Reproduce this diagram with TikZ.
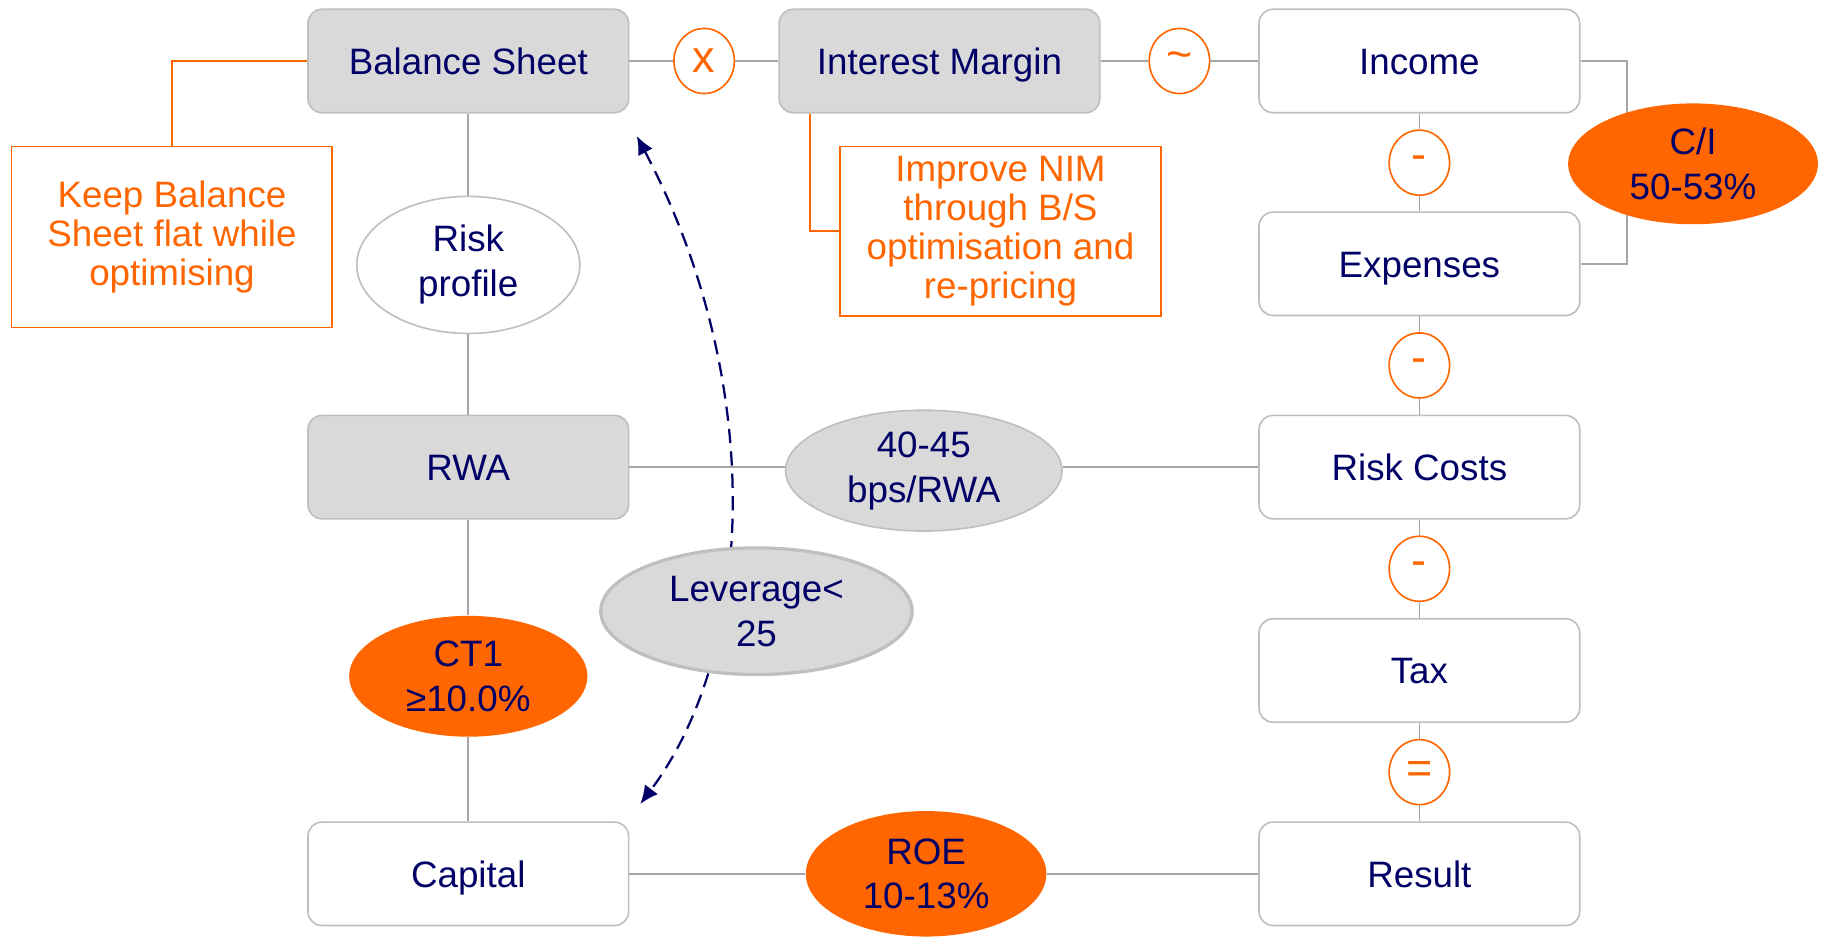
\documentclass[tikz,border=0pt]{standalone}
\usepackage{fontspec}
\setmainfont{Liberation Sans}
\usetikzlibrary{shapes.geometric,arrows.meta}
\definecolor{navytext}{RGB}{0,0,102}
\definecolor{accent}{RGB}{255,102,0}
\definecolor{fillgray}{RGB}{217,217,217}
\definecolor{edgegray}{RGB}{191,191,191}
\definecolor{linkgray}{RGB}{166,166,166}
\tikzset{
  box/.style={draw=edgegray, line width=0.8pt, rounded corners=0.24cm,
    minimum width=5.52cm, minimum height=1.78cm, text=navytext,
    text height=13pt, text depth=0pt,
    font=\fontsize{18}{19.5}\selectfont},
  greybox/.style={box, fill=fillgray},
  whitebox/.style={box, fill=white},
  op/.style={ellipse, draw=accent, line width=0.8pt, fill=white, inner sep=0pt,
    minimum width=1.04cm, minimum height=1.12cm, text=accent,
    font=\fontsize{22}{22}\selectfont},
  note/.style={draw=accent, line width=0.8pt, fill=white, minimum width=5.52cm,
    text=accent, align=center, font=\fontsize{18}{19}\selectfont},
  oval/.style={ellipse, align=center, text=navytext, inner sep=0pt,
    font=\fontsize{18}{22}\selectfont},
  hotoval/.style={oval, fill=accent},
  greyoval/.style={oval, fill=fillgray, draw=edgegray, line width=0.8pt},
  link/.style={draw=linkgray, line width=0.8pt},
  callout/.style={draw=accent, line width=0.8pt},
}
\begin{document}
\begin{tikzpicture}[x=0.02cm,y=-0.02cm]
  \useasboundingbox (0,0) rectangle (1568,810);
  % main boxes
  \node[greybox] (bs) at (403,52.5) {Balance Sheet};
  \node[greybox] (im) at (808.5,52.5) {Interest Margin};
  \node[greybox] (rwa) at (403,402) {RWA};
  \node[whitebox] (cap) at (403,752) {Capital};
  \node[whitebox] (inc) at (1221.5,52.5) {Income};
  \node[whitebox] (exp) at (1221.5,227) {Expenses};
  \node[whitebox] (rc) at (1221.5,402) {Risk Costs};
  \node[whitebox] (tax) at (1221.5,577) {Tax};
  \node[whitebox] (res) at (1221.5,752) {Result};
  % operators
  \node[op] (times) at (606,52.5) {x};
  \node[op] (approx) at (1015,52.5) {\textasciitilde};
  \node[op] (minusA) at (1221.5,140) {-};
  \node[op] (minusB) at (1221.5,314.5) {-};
  \node[op] (minusC) at (1221.5,489.5) {-};
  \node[op] (equals) at (1221.5,664.5) {=};
  % notes
  \node[note, minimum height=3.12cm] (keep) at (148,204)
    {Keep Balance\\Sheet flat while\\optimising};
  \node[note, minimum height=2.92cm] (nim) at (861,199)
    {Improve NIM\\through B/S\\optimisation and\\re-pricing};
  \draw[callout] (bs.west) -| (keep.north);
  \draw[callout] (im.south west) ++(27,0) |- (nim.west);
  % ratio ovals
  \node[oval, fill=white, draw=edgegray, line width=0.8pt,
    minimum width=3.84cm, minimum height=2.36cm] (prof) at (403,228) {Risk\\profile};
  \node[greyoval, minimum width=4.76cm, minimum height=2.08cm] (bps) at (795,405)
    {40-45\\bps/RWA};
  \node[hotoval, minimum width=4.1cm, minimum height=2.08cm] (ct1) at (403,582)
    {CT1\\≥10.0\%};
  \node[hotoval, minimum width=4.14cm, minimum height=2.16cm] (roe) at (797,752)
    {ROE\\10-13\%};
  % connectors
  \draw[link] (bs.east) -- (times.west);
  \draw[link] (times.east) -- (im.west);
  \draw[link] (im.east) -- (approx.west);
  \draw[link] (approx.east) -- (inc.west);
  \draw[link] (inc.south) -- (minusA.north);
  \draw[link] (minusA.south) -- (exp.north);
  \draw[link] (exp.south) -- (minusB.north);
  \draw[link] (minusB.south) -- (rc.north);
  \draw[link] (rc.south) -- (minusC.north);
  \draw[link] (minusC.south) -- (tax.north);
  \draw[link] (tax.south) -- (equals.north);
  \draw[link] (equals.south) -- (res.north);
  \draw[link] (bs.south) -- (prof.north);
  \draw[link] (prof.south) -- (rwa.north);
  \draw[link] (rwa.south) -- (ct1.north);
  \draw[link] (ct1.south) -- (cap.north);
  \draw[link] (rwa.east) -- (bps.west |- rwa.east);
  \draw[link] (bps.east |- rc.west) -- (rc.west);
  \draw[link] (cap.east) -- (roe.west);
  \draw[link] (roe.east) -- (res.west);
  % cost/income bracket
  \draw[link] (inc.east) -| (1400,140) |- (exp.east);
  \node[hotoval, minimum width=4.3cm, minimum height=2.08cm] (ci) at (1457,141)
    {C/I\\50-53\%};
  % leverage arrow
  \coordinate (levtop) at (548,117);
  \coordinate (levbot) at (551,692);
  \draw[navytext, line width=1.1pt, dash pattern={on 7pt off 4pt},
    {Latex[length=9pt,width=8pt]}-{Latex[length=9pt,width=8pt]}]
    (levtop) .. controls (660,330) and (650,560) .. (levbot);
  \node[greyoval, line width=1.6pt, minimum width=5.36cm, minimum height=2.18cm]
    (lev) at (651,526) {Leverage<\\25};
\end{tikzpicture}
\end{document}
